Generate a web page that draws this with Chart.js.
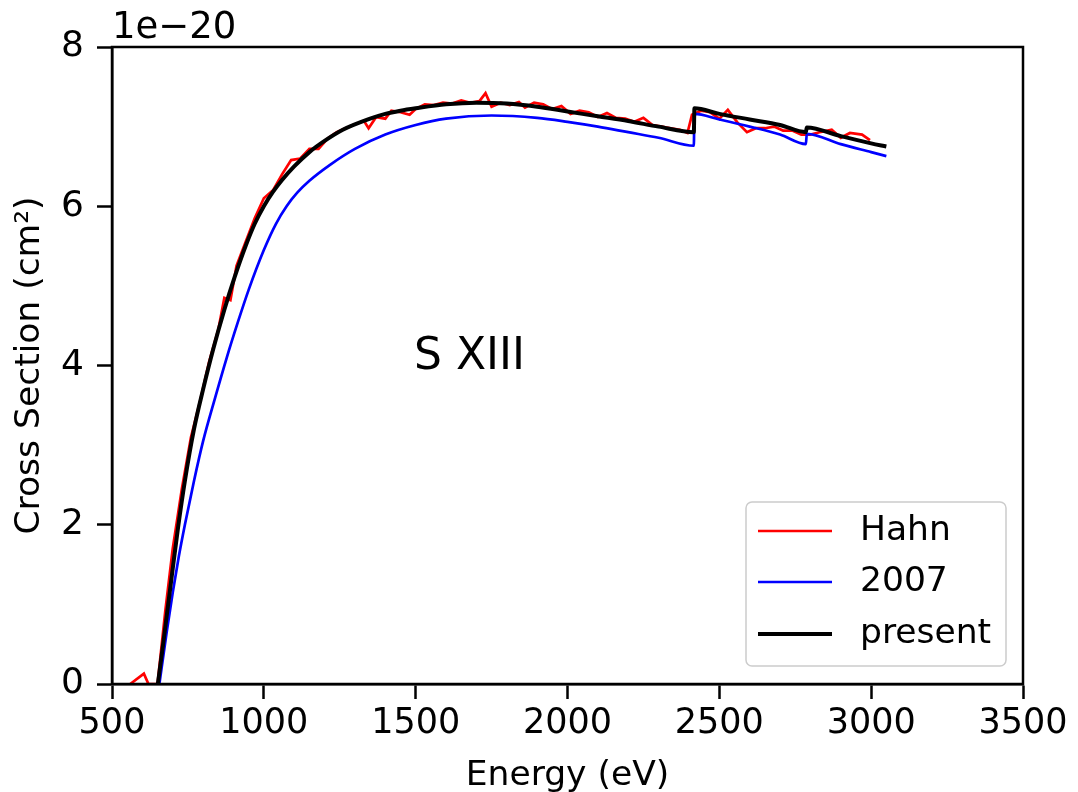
<!DOCTYPE html>
<html>
<head>
<meta charset="utf-8">
<script src="https://cdn.jsdelivr.net/npm/chart.js@4.4.1/dist/chart.umd.min.js"></script>
<style>
  body { margin: 0; background: #fff; }
  #wrap { width: 1078px; height: 792px; }
</style>
</head>
<body>
<div id="wrap"><canvas id="xsec" width="1078" height="792"></canvas></div>
<script>
// --- Data (cross sections in units of 1e-20 cm^2) ---
const hahnE = [560, 605, 620, 650, 675, 700, 730, 760, 790, 820, 850, 870, 890, 910, 940, 970, 1000, 1030, 1060, 1090,
  1120, 1150, 1180, 1210, 1240, 1270, 1300, 1330, 1345, 1370, 1400, 1420, 1450, 1480, 1500, 1530, 1560, 1590, 1620, 1650,
  1680, 1710, 1730, 1750, 1780, 1810, 1840, 1860, 1890, 1920, 1950, 1980, 2010, 2040, 2070, 2100, 2130, 2160, 2190, 2220,
  2250, 2280, 2310, 2340, 2370, 2395, 2410, 2440, 2470, 2500, 2528, 2560, 2591, 2620, 2650, 2680, 2710, 2740, 2770, 2800,
  2830, 2870, 2900, 2930, 2970, 2996];
const hahnY = [0, 0.13, 0, 0, 0.9, 1.7, 2.45, 3.1, 3.55, 4.05, 4.45, 4.85, 4.82, 5.25, 5.55, 5.85, 6.1, 6.2, 6.4, 6.58,
  6.6, 6.72, 6.72, 6.85, 6.93, 6.98, 7.03, 7.07, 6.98, 7.12, 7.1, 7.2, 7.18, 7.15, 7.22, 7.28, 7.27, 7.3, 7.29, 7.33,
  7.3, 7.32, 7.42, 7.25, 7.3, 7.27, 7.31, 7.24, 7.3, 7.28, 7.22, 7.26, 7.16, 7.2, 7.18, 7.12, 7.17, 7.11, 7.1, 7.06,
  7.11, 7.02, 7.0, 6.98, 6.96, 6.92, 7.15, 7.2, 7.18, 7.1, 7.21, 7.05, 6.93, 6.98, 6.98, 7.0, 6.95, 6.95, 6.9, 6.9,
  6.93, 6.96, 6.86, 6.92, 6.9, 6.83];

const oldE = [656, 680, 700, 720, 740, 770, 800, 840, 878, 915, 950, 1000, 1040, 1075, 1110, 1150, 1218, 1300, 1400,
  1500, 1600, 1750, 1900, 2000, 2100, 2200, 2300, 2416, 2418, 2500, 2600, 2700, 2785, 2788, 2900, 3000, 3050];
const oldY = [0, 0.65, 1.15, 1.6, 2.0, 2.55, 3.05, 3.6, 4.1, 4.55, 4.95, 5.45, 5.78, 6.0, 6.17, 6.32, 6.52, 6.72, 6.9,
  7.02, 7.1, 7.14, 7.11, 7.06, 7.0, 6.93, 6.86, 6.76, 7.16, 7.09, 7.0, 6.9, 6.78, 6.91, 6.78, 6.68, 6.63];

const presentE = [651, 670, 685, 700, 717, 740, 770, 800, 833, 870, 903, 940, 970, 1000, 1030, 1060, 1100, 1150, 1200,
  1260, 1350, 1400, 1450, 1500, 1600, 1700, 1800, 1900, 2000, 2100, 2200, 2300, 2416, 2418, 2500, 2600, 2700, 2785,
  2788, 2900, 3000, 3050];
const presentY = [0, 0.55, 1.0, 1.45, 1.95, 2.55, 3.2, 3.7, 4.2, 4.7, 5.1, 5.5, 5.78, 6.0, 6.18, 6.33, 6.5, 6.68, 6.82,
  6.96, 7.1, 7.16, 7.2, 7.23, 7.28, 7.30, 7.29, 7.25, 7.19, 7.13, 7.07, 7.0, 6.93, 7.23, 7.16, 7.09, 7.02, 6.93,
  6.99, 6.88, 6.79, 6.75];

const xTicks = [500, 1000, 1500, 2000, 2500, 3000, 3500];
const yTicks = [0, 2, 4, 6, 8];

const toPoints = (xs, ys) => xs.map((x, i) => ({ x, y: ys[i] }));

Chart.defaults.font.family = "'DejaVu Sans', sans-serif";
Chart.defaults.color = "#000";

// --- Frame, offset label, annotation and legend box ---
const extras = {
  id: "extras",
  afterDatasetsDraw(chart) {
    const { ctx, chartArea: a } = chart;
    ctx.save();
    ctx.strokeStyle = "#000";
    ctx.lineWidth = 2.5;
    ctx.strokeRect(a.left, a.top, a.right - a.left, a.bottom - a.top);

    ctx.fillStyle = "#000";
    ctx.font = "37px 'DejaVu Sans'";
    ctx.textBaseline = "alphabetic";
    ctx.textAlign = "left";
    ctx.fillText("1e\u221220", a.left, a.top - 9);

    ctx.font = "44px 'DejaVu Sans'";
    ctx.fillText("S XIII", 414, 369);

    // legend
    const bx = 746, by = 502, bw = 260, bh = 164, r = 6;
    ctx.fillStyle = "rgba(255,255,255,0.8)";
    ctx.strokeStyle = "#cccccc";
    ctx.lineWidth = 1.5;
    ctx.beginPath();
    ctx.roundRect(bx, by, bw, bh, r);
    ctx.fill();
    ctx.stroke();
    const rows = [531, 582, 634];
    ctx.font = "34.5px 'DejaVu Sans'";
    ctx.textBaseline = "middle";
    chart.data.datasets.forEach((ds, i) => {
      ctx.strokeStyle = ds.borderColor;
      ctx.lineWidth = ds.borderWidth;
      ctx.beginPath();
      ctx.moveTo(758, rows[i]);
      ctx.lineTo(832, rows[i]);
      ctx.stroke();
      ctx.fillStyle = "#000";
      ctx.fillText(ds.label, 860, rows[i]);
    });
    ctx.restore();
  },
};

new Chart(document.getElementById("xsec"), {
  type: "line",
  data: {
    datasets: [
      { label: "Hahn", data: toPoints(hahnE, hahnY), borderColor: "#ff0000", borderWidth: 2.7, order: 2 },
      { label: "2007", data: toPoints(oldE, oldY), borderColor: "#0000ff", borderWidth: 2.7, order: 1,
        cubicInterpolationMode: "monotone" },
      { label: "present", data: toPoints(presentE, presentY), borderColor: "#000000", borderWidth: 4, order: 0,
        cubicInterpolationMode: "monotone" },
    ],
  },
  options: {
    responsive: false,
    animation: false,
    layout: { padding: { top: 47, right: 55, left: 0, bottom: 0 } },
    elements: { point: { radius: 0 }, line: { tension: 0, fill: false } },
    plugins: { legend: { display: false }, tooltip: { enabled: false } },
    scales: {
      x: {
        type: "linear",
        min: 500,
        max: 3500,
        afterBuildTicks: (s) => { s.ticks = xTicks.map((v) => ({ value: v })); },
        afterFit: (s) => { s.height = 108; },
        ticks: { font: { size: 35 }, padding: 4, maxRotation: 0, callback: (v) => String(v) },
        grid: { drawOnChartArea: false, tickLength: 15, tickWidth: 2.5, tickColor: "#000" },
        border: { color: "#000", width: 2.5 },
        title: { display: true, text: "Energy (eV)", font: { size: 34.5, lineHeight: 1 }, padding: { top: 0, bottom: -1 } },
      },
      y: {
        min: 0,
        max: 8,
        afterBuildTicks: (s) => { s.ticks = yTicks.map((v) => ({ value: v })); },
        afterFit: (s) => { s.width = 112; },
        ticks: { font: { size: 36 }, padding: 13, callback: (v) => String(v) },
        grid: { drawOnChartArea: false, tickLength: 15, tickWidth: 2.5, tickColor: "#000" },
        border: { color: "#000", width: 2.5 },
        title: { display: true, text: "Cross Section (cm\u00b2)", font: { size: 34.5, lineHeight: 1 }, padding: { top: 13, bottom: 0 } },
      },
    },
  },
  plugins: [extras],
});
</script>
</body>
</html>
